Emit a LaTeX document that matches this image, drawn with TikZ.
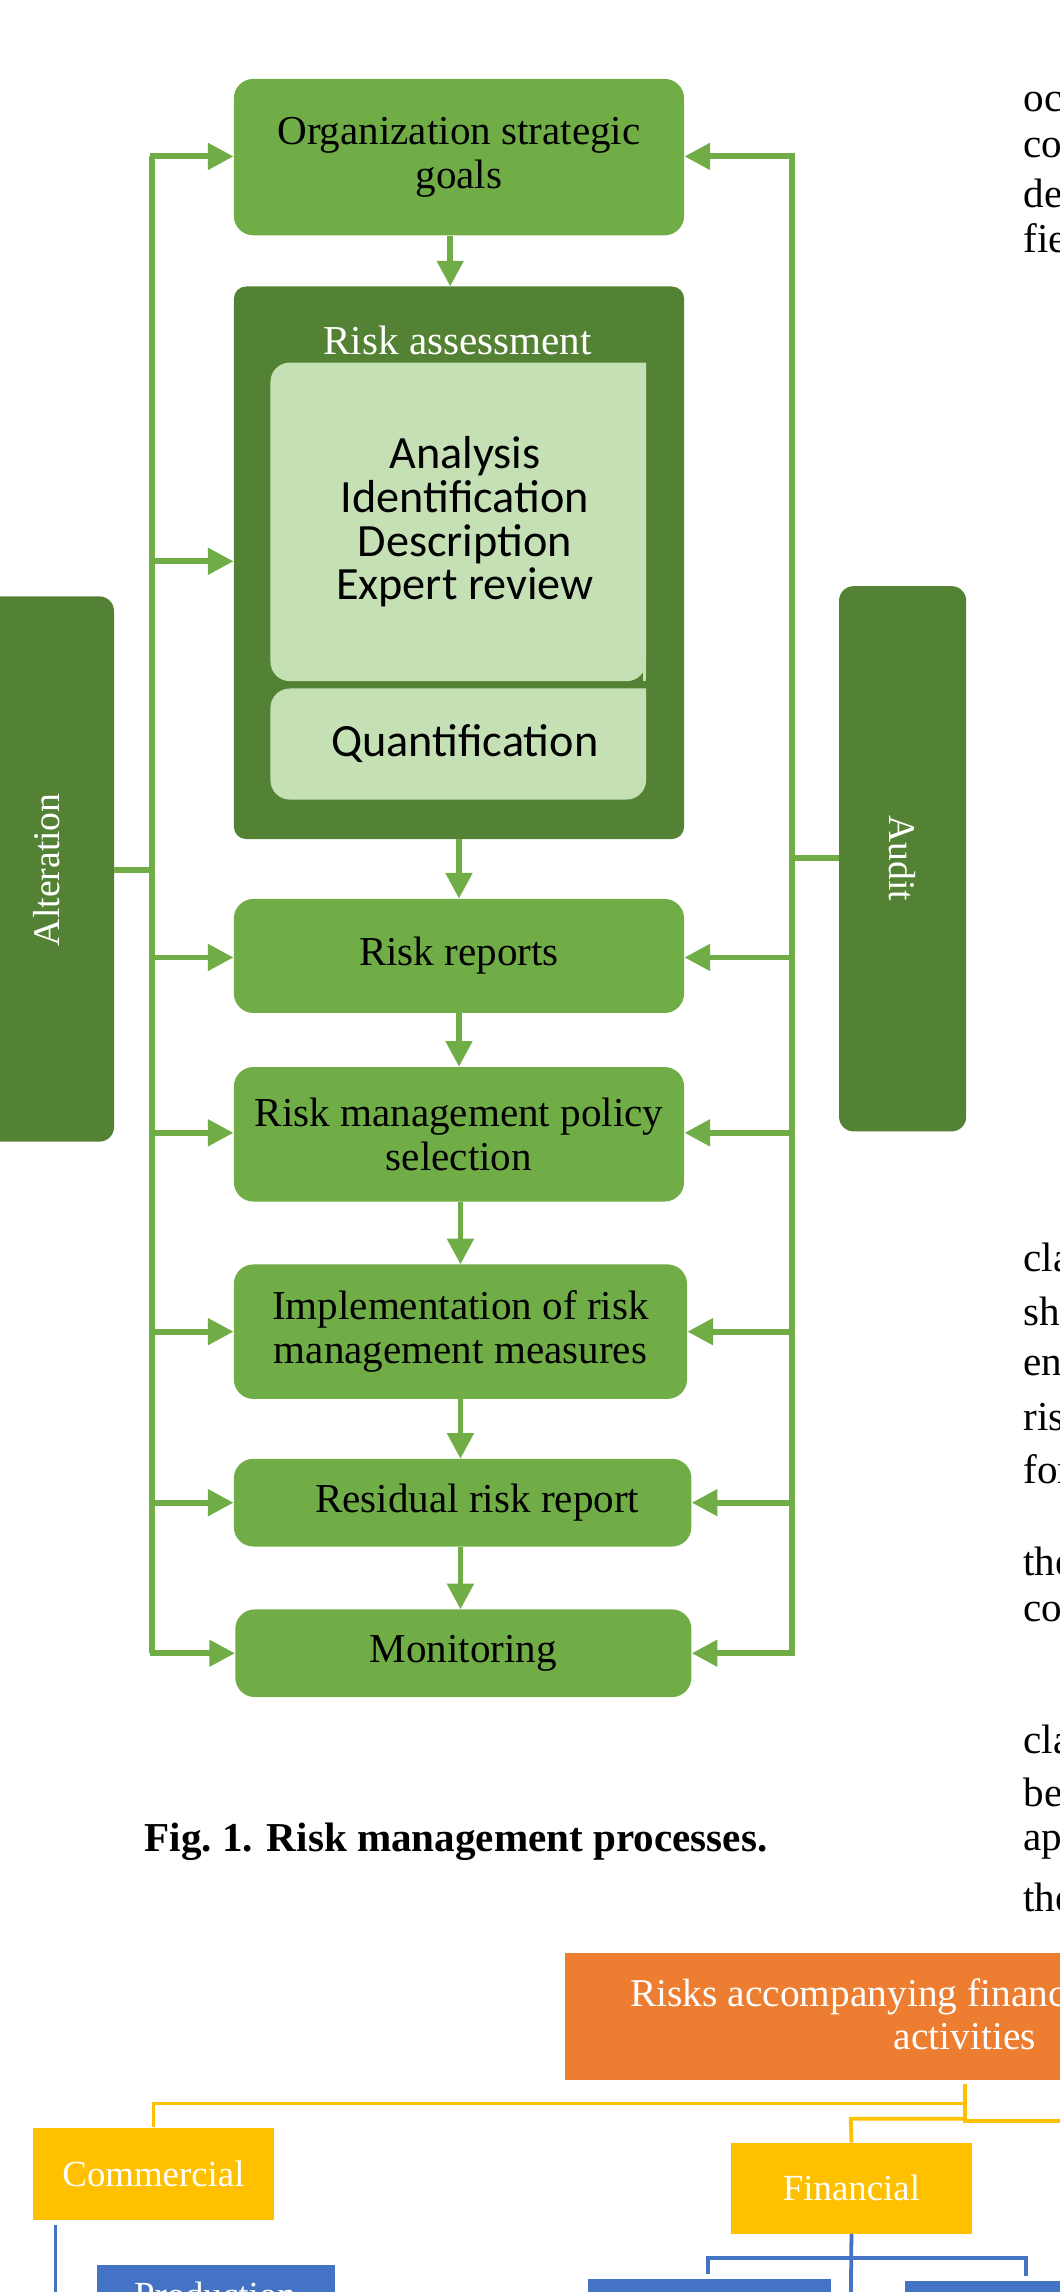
\documentclass[tikz,border=0pt]{standalone}
\usepackage{fontspec}
\setmainfont{Liberation Serif}
\newfontfamily\carl{Carlito}
\usetikzlibrary{arrows.meta,calc}
\definecolor{gmid}{HTML}{70AD47}
\definecolor{gdark}{HTML}{548235}
\definecolor{glight}{HTML}{C5E0B4}
\definecolor{orng}{HTML}{ED7D31}
\definecolor{yel}{HTML}{FFC000}
\definecolor{blu}{HTML}{4472C4}
\begin{document}
\begin{tikzpicture}[x=0.03cm,y=-0.03cm,
  box/.style={fill=gmid,rounded corners=0.4cm,align=center,inner sep=0pt,font=\fontsize{24}{25.5}\selectfont},
  arr/.style={gmid,line width=3.4pt,-{Triangle[length=15pt,width=15pt]}},
  ln/.style={gmid,line width=3.4pt},
  frag/.style={anchor=west,inner sep=0pt,font=\fontsize{24}{28}\selectfont},
  sq/.style={inner sep=0pt,text=white,align=center,font=\fontsize{21.5}{24}\selectfont},
  yl/.style={yel,line width=2.2pt},
  bl/.style={blu,line width=2.2pt}]
\useasboundingbox (0,0) rectangle (725,1568);
\begin{scope}
\clip (0,0) rectangle (725,1568);
% boxes
\node[box,minimum width=9.24cm,minimum height=3.21cm] (goals) at (314,107.5) {Organization strategic\\goals};
\node[fill=gdark,rounded corners=0.25cm,minimum width=9.24cm,minimum height=11.34cm,inner sep=0pt] (ra) at (314,385) {};
\node[inner sep=0pt,text=white,font=\fontsize{24}{26}\selectfont] (rat) at (313,233) {Risk assessment};
\fill[glight,rounded corners=0.4cm] (442,248) -- (185,248) -- (185,466) -- (442,466) [sharp corners] -- cycle;
\fill[glight] (440,248) rectangle (442,466);
\fill[glight,rounded corners=0.4cm] (442,471) -- (185,471) -- (185,547) -- (442,547) [sharp corners] -- cycle;
\node[align=center,inner sep=0pt,font=\carl\fontsize{27}{25.5}\selectfont] (ana) at (318,357) {Analysis\\Identification\\Description\\Expert review};
\node[inner sep=0pt,font=\carl\fontsize{27}{30}\selectfont] (quant) at (318,509) {Quantification};
\node[box,minimum width=9.24cm,minimum height=2.34cm] (rr) at (314,654) {Risk reports};
\node[box,minimum width=9.24cm,minimum height=2.76cm] (pol) at (314,776) {Risk management policy\\selection};
\node[box,minimum width=9.3cm,minimum height=2.76cm] (imp) at (315,911) {Implementation of risk\\management measures};
\node[box,minimum width=9.39cm,minimum height=1.8cm] (res) at (316.5,1028) {\hspace*{0.6cm}Residual risk report};
\node[box,minimum width=9.36cm,minimum height=1.8cm] (mon) at (317,1131) {Monitoring};
\node[fill=gdark,rounded corners=0.3cm,minimum width=2.64cm,minimum height=11.19cm,inner sep=0pt] (alt) at (34,594.5) {};
\node[rotate=90,text=white,font=\fontsize{22}{26}\selectfont] (altt) at (32,595) {Alteration};
\node[fill=gdark,rounded corners=0.3cm,minimum width=2.61cm,minimum height=11.19cm,inner sep=0pt] (aud) at (617.5,587.5) {};
\node[rotate=-90,text=white,font=\fontsize{22}{26}\selectfont] (audt) at (617,587) {Audit};
% down arrows
\draw[arr] (goals.south -| 308,0) -- (308,196);
\draw[arr] (ra.south) -- (rr.north);
\draw[arr] (rr.south) -- (pol.north);
\draw[arr] (315,822) -- (315,865);
\draw[arr] (315,957) -- (315,998);
\draw[arr] (315,1058) -- (315,1101);
% left feedback
\coordinate (lt) at (104,107);
\coordinate (lb) at (104,1131);
\draw[ln] (alt.east |- 0,595) -- (104,595);
\draw[ln] (lt) -- (lb);
\foreach \y/\t in {107/goals,384/ra,655/rr,775/pol,911/imp,1028/res,1131/mon}
  \draw[arr] (102.3,\y) -- (\t.west |- 0,\y);
% right feedback
\coordinate (rt) at (542,107);
\coordinate (rb) at (542,1131);
\draw[ln] (aud.west |- 0,587) -- (542,587);
\draw[ln] (rt) -- (rb);
\foreach \y/\t in {107/goals,655/rr,775/pol,911/imp,1028/res,1131/mon}
  \draw[arr] (543.7,\y) -- (\t.east |- 0,\y);
% caption
\node[inner sep=0pt,font=\bfseries\fontsize{24}{26}\selectfont] (cap) at (312,1260) {Fig.~1. Risk management processes.};
% right text fragments
\foreach \y/\w [count=\i] in {70/occ,101/con,132/des,163/fiel}
  \node[frag] (fa\i) at (700,\y) {\w};
\foreach \y/\w [count=\i] in {860/clas,897/sho,933/ent,969/risk,1005/for,1068/the,1103/con,1190/clas,1226/bee,1262/app,1298/the}
  \node[frag] (fb\i) at (700,\y) {\w};
% bottom chart
\node[fill=orng,minimum width=10.3cm,minimum height=2.61cm,inner sep=0pt] (top) at (558,1379.5) {};
\node[inner sep=0pt,text=white,anchor=west,font=\fontsize{23}{26}\selectfont] (topt) at (431,1366) {Risks accompanying financial};
\node[inner sep=0pt,text=white,font=\fontsize{23}{26}\selectfont] (topt2) at (660,1393) {activities};
\node[fill=yel,minimum width=4.95cm,minimum height=1.89cm,sq] (com) at (105,1487) {Commercial};
\node[fill=yel,minimum width=4.95cm,minimum height=1.86cm,sq] (fin) at (582.5,1497) {Financial};
\coordinate (j1) at (660,1439);
\draw[yl] (660,1426) -- (660,1451) -- (730,1451);
\draw[yl] (j1) -- (105,1439) -- (com.north);
\draw[yl] (660,1449.5) -- (582,1449.5) -- (fin.north);
\node[fill=blu,minimum width=4.89cm,minimum height=2cm,anchor=north west,inner sep=0pt] (prod) at (66,1549) {};
\node[text=white,inner sep=0pt,font=\fontsize{21.5}{24}\selectfont,anchor=north] (prodt) at (147,1561) {Production};
\node[fill=blu,minimum width=4.98cm,minimum height=2cm,anchor=north west,inner sep=0pt] (b2) at (402,1559) {};
\node[fill=blu,minimum width=4.98cm,minimum height=2cm,anchor=north west,inner sep=0pt] (b3) at (619,1560) {};
\draw[bl] (38,1522) -- (38,1580);
\draw[bl] (fin.south) -- (582,1580);
\draw[bl] (484.5,1556) -- (484.5,1544.6) -- (702,1544.6) -- (702,1557);
\end{scope}
\end{tikzpicture}
\end{document}
